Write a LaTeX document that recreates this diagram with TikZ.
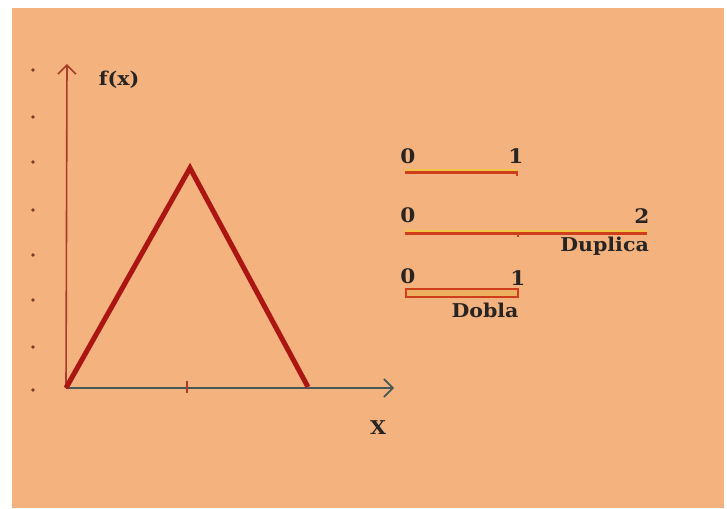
\documentclass[tikz,border=0pt]{standalone}
\usepackage{fontspec}
\setmainfont{DejaVu Serif}[FakeStretch=1.08]
\usetikzlibrary{arrows.meta}
\definecolor{bg}{RGB}{243,178,126}
\definecolor{ink}{RGB}{40,36,34}
\definecolor{trired}{RGB}{172,22,18}
\definecolor{yaxc}{RGB}{168,62,40}
\definecolor{xaxc}{RGB}{70,88,88}
\definecolor{segred}{RGB}{206,62,26}
\definecolor{seghi}{RGB}{242,196,70}
\definecolor{dotc}{RGB}{120,60,40}
\begin{document}
\begin{tikzpicture}[x=1pt,y=-1pt,
  lbl/.style={inner sep=0pt, text=ink, font=\fontsize{19}{19}\selectfont\bfseries},
  numlbl/.style={lbl, font=\fontsize{20}{20}\selectfont\bfseries},
  axarrow/.style={-{Straight Barb[length=9pt,width=18pt,line width=1.6pt]}},
  tri/.style={draw=trired, line width=5pt, line join=miter},
  seg/.style={draw=segred, line width=3pt},
  seghl/.style={draw=seghi, line width=1.8pt}]
\useasboundingbox (0,0) rectangle (727,508);
\fill[white] (0,0) rectangle (727,508);
\fill[bg] (12,8) rectangle (724,508);
% dots on the left margin
\foreach \yy in {70,117,162,210,255,300,347,390}
  \fill[dotc] (33,\yy) circle (1.9);
% axes
\coordinate (O) at (66,388);
\coordinate (ytop) at (67,64);
\coordinate (xend) at (394,388);
\coordinate (tk) at (187,388);
\draw[yaxc, line width=1.6pt, axarrow] (O) -- (ytop);
\draw[xaxc, line width=1.6pt, axarrow] (O) -- (xend);
\draw[yaxc, line width=1.3pt] ([yshift=-5pt]tk) -- ([yshift=7pt]tk);
% triangle
\coordinate (apex) at (190,168);
\coordinate (rt) at (308,387);
\draw[tri] (O) -- (apex) -- (rt);
% axis labels
\node[lbl] (fx) at (119,80) {f(x)};
\node[lbl] (xl) at (378,428) {X};
% segment 1
\coordinate (s1a) at (405,172);
\coordinate (s1b) at (517,172);
\draw[seghl] ([yshift=1.8pt]s1a) -- ([yshift=1.8pt]s1b);
\draw[seg] (s1a) -- (s1b);
\draw[segred, line width=1.2pt] ([yshift=-4pt]s1b) -- ([yshift=1pt]s1b);
\node[numlbl] (z1) at (408,156) {0};
\node[numlbl] (o1) at (516,156) {1};
% segment 2
\coordinate (s2a) at (405,233);
\coordinate (s2m) at (518,233);
\coordinate (s2b) at (647,233);
\draw[seghl] ([yshift=1.8pt]s2a) -- ([yshift=1.8pt]s2b);
\draw[seg] (s2a) -- (s2b);
\draw[segred, line width=1.2pt] ([yshift=-4pt]s2m) -- (s2m);
\node[numlbl] (z2) at (408,215) {0};
\node[numlbl] (t2) at (642,216) {2};
\node[lbl, anchor=east] (dup) at (649,246) {Duplica};
% segment 3
\coordinate (s3a) at (406,289);
\coordinate (s3b) at (518,297);
\draw[draw=segred, fill=seghi!70!segred!80, line width=1.6pt] (s3a) rectangle (s3b);
\node[numlbl] (z3) at (408,276) {0};
\node[numlbl] (o3) at (518,278) {1};
\node[lbl] (dob) at (485,310) {Dobla};
\end{tikzpicture}
\end{document}
